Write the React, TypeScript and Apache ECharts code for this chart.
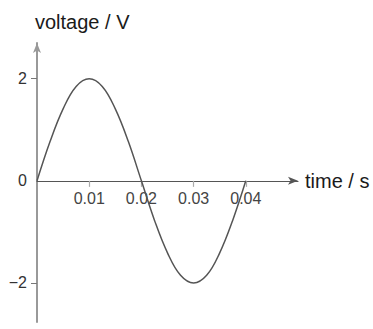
import React, { useEffect, useRef } from "react";
import * as echarts from "echarts";

const timeValues = [0, 0.0025, 0.005, 0.0075, 0.01, 0.0125, 0.015, 0.0175, 0.02, 0.0225, 0.025, 0.0275, 0.03, 0.0325, 0.035, 0.0375, 0.04];
const voltageValues = [0, 0.77, 1.41, 1.85, 2, 1.85, 1.41, 0.77, 0, -0.77, -1.41, -1.85, -2, -1.85, -1.41, -0.77, 0];
const xTickValues = [0.01, 0.02, 0.03, 0.04];
const yTickValues = [-2, 2];
const yLabelValues = [-2, 0, 2];

const FONT = "'Liberation Sans', Arial, sans-serif";
const Y_MIN = -2.765;
const Y_MAX = 2.7;
const GRID_TOP = 43;
const GRID_H = 279;

export default function App() {
  const ref = useRef<HTMLDivElement>(null);
  useEffect(() => {
    if (!ref.current) return;
    const chart = echarts.init(ref.current, undefined, { renderer: "svg" });
    const zeroOffset = -(GRID_H * (0 - Y_MIN)) / (Y_MAX - Y_MIN);
    chart.setOption({
      animation: false,
      backgroundColor: "#ffffff",
      title: {
        text: "voltage / V",
        left: 30,
        top: 7,
        textStyle: { fontFamily: FONT, fontSize: 20, fontWeight: "normal", color: "#1a1a1a" },
      },
      grid: { left: 37, top: GRID_TOP, width: 261, height: GRID_H, outerBoundsMode: "none", containLabel: false },
      xAxis: {
        type: "value",
        min: 0,
        max: 0.05,
        position: "bottom",
        offset: zeroOffset,
        name: "time / s",
        nameLocation: "end",
        nameGap: 7,
        nameTextStyle: { fontFamily: FONT, fontSize: 20, color: "#1a1a1a", verticalAlign: "middle" },
        axisLine: {
          onZero: false,
          symbol: ["none", "arrow"],
          symbolSize: [6, 10],
          lineStyle: { color: "#555", width: 1.2 },
        },
        axisTick: { show: true, length: 6, customValues: xTickValues, lineStyle: { color: "#aaa", width: 1.2 } },
        axisLabel: {
          customValues: xTickValues,
          margin: 10,
          fontFamily: FONT,
          fontSize: 16,
          color: "#444",
          formatter: (v: number) => v.toFixed(2),
        },
        splitLine: { show: false },
      },
      yAxis: {
        type: "value",
        min: Y_MIN,
        max: Y_MAX,
        axisLine: {
          onZero: true,
          symbol: ["none", "arrow"],
          symbolSize: [6, 10],
          lineStyle: { color: "#999", width: 2 },
        },
        axisTick: { show: true, length: 6, customValues: yTickValues, lineStyle: { color: "#777", width: 1 } },
        axisLabel: {
          customValues: yLabelValues,
          margin: 10,
          fontFamily: FONT,
          fontSize: 16,
          color: "#333",
          formatter: (v: number) => (v < 0 ? "\u2212" + Math.abs(v) : String(v)),
        },
        splitLine: { show: false },
      },
      series: [
        {
          type: "line",
          data: timeValues.map((t, i) => [t, voltageValues[i]]),
          smooth: 0.4,
          showSymbol: false,
          lineStyle: { color: "#555", width: 1.5 },
        },
      ],
    });
    return () => chart.dispose();
  }, []);
  return <div ref={ref} style={{ width: 373, height: 329, position: "absolute", left: 0, top: 0 }} />;
}
